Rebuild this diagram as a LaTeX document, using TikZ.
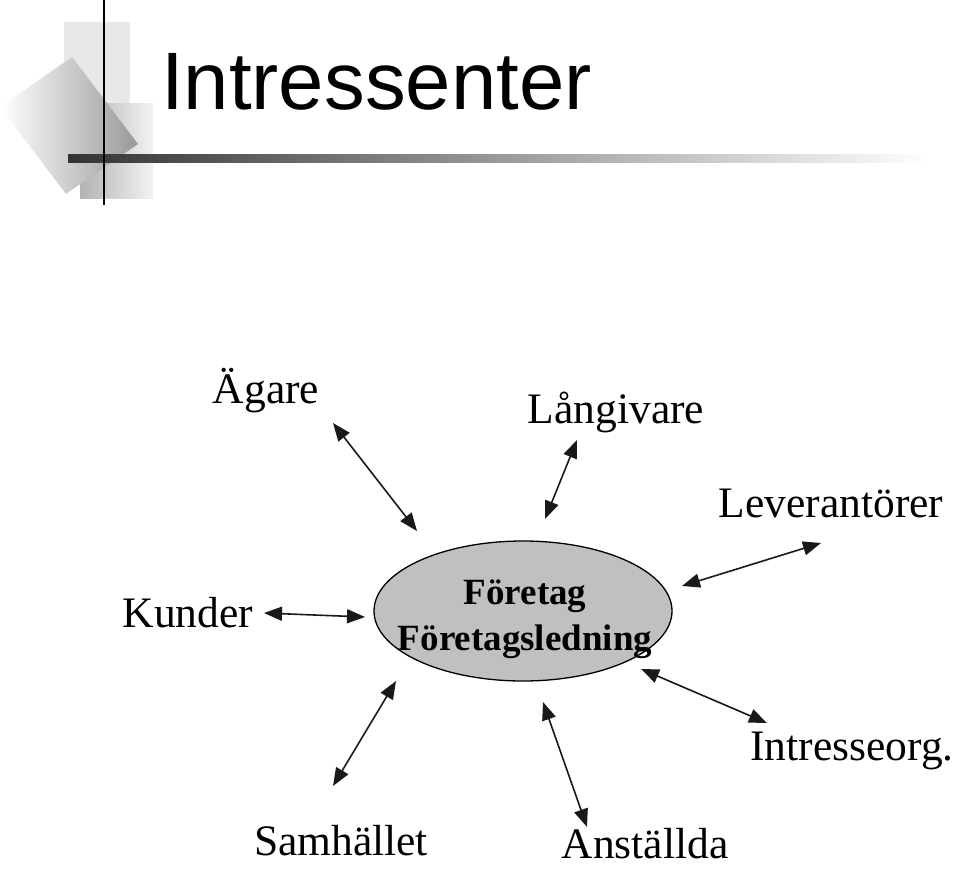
\documentclass[tikz,border=0pt]{standalone}
\usepackage{fontspec}
\setmainfont{Liberation Serif}
\newfontfamily\titlefont{Liberation Sans}
\usetikzlibrary{arrows.meta,shapes.geometric}
\definecolor{ellgray}{RGB}{192,192,192}
\tikzset{
  lbl/.style={anchor=base,inner sep=0pt,font=\fontsize{43.5}{43.5}\selectfont},
  inlbl/.style={anchor=base,inner sep=0pt,font=\fontsize{37}{37}\selectfont\bfseries},
  dbl/.style={{Triangle[length=18pt,width=14pt]}-{Triangle[length=18pt,width=14pt]},line width=1.6pt,black!90},
}
\begin{document}
\begin{tikzpicture}[x=1pt,y=-1pt]
\useasboundingbox (0,0) rectangle (960,869);
% decoration
\fill[gray!18] (64,22) rectangle (130,104);
\shade[left color=gray!60,right color=gray!10] (80,104) rectangle (153,198);
\shade[shading angle=60,left color=white,right color=gray!80] (0,107) -- (72,57) -- (138,144) -- (66,194) -- cycle;
\shade[left color=black!80,right color=white] (68,155) rectangle (930,163);
\draw[line width=2.5pt] (104,0) -- (104,205);
\node[anchor=base west,inner sep=0pt,font=\fontsize{81.5}{81.5}\titlefont] (title) at (161,110) {Intressenter};
% centre
\node[draw,ellipse,fill=ellgray,line width=1.3pt,minimum width=298,minimum height=140,inner sep=0pt] (center) at (523,611) {};
\node[inlbl] (t1) at (525,604) {Företag};
\node[inlbl] (t2) at (525,650) {Företagsledning};
% labels
\node[lbl] (agare) at (266,403) {Ägare};
\node[lbl] (lang) at (616,423) {Långivare};
\node[lbl] (lev) at (831,517) {Leverantörer};
\node[lbl] (kund) at (188,627) {Kunder};
\node[lbl] (intr) at (852,760) {Intresseorg.};
\node[lbl] (samh) at (341,855) {Samhället};
\node[lbl] (anst) at (645,858) {Anställda};
% arrow ends
\coordinate (a1) at (333,423); \coordinate (a2) at (417,531);
\coordinate (b1) at (577,440); \coordinate (b2) at (545,519);
\coordinate (c1) at (821,543); \coordinate (c2) at (682,586);
\coordinate (d1) at (264,613); \coordinate (d2) at (365,617);
\coordinate (e1) at (767,723); \coordinate (e2) at (641,669);
\coordinate (f1) at (396,681); \coordinate (f2) at (333,786);
\coordinate (g1) at (543,702); \coordinate (g2) at (587,827);
\draw[dbl] (a1) -- (a2);
\draw[dbl] (b1) -- (b2);
\draw[dbl] (c1) -- (c2);
\draw[dbl] (d1) -- (d2);
\draw[dbl] (e1) -- (e2);
\draw[dbl] (f1) -- (f2);
\draw[dbl] (g1) -- (g2);
\end{tikzpicture}
\end{document}
